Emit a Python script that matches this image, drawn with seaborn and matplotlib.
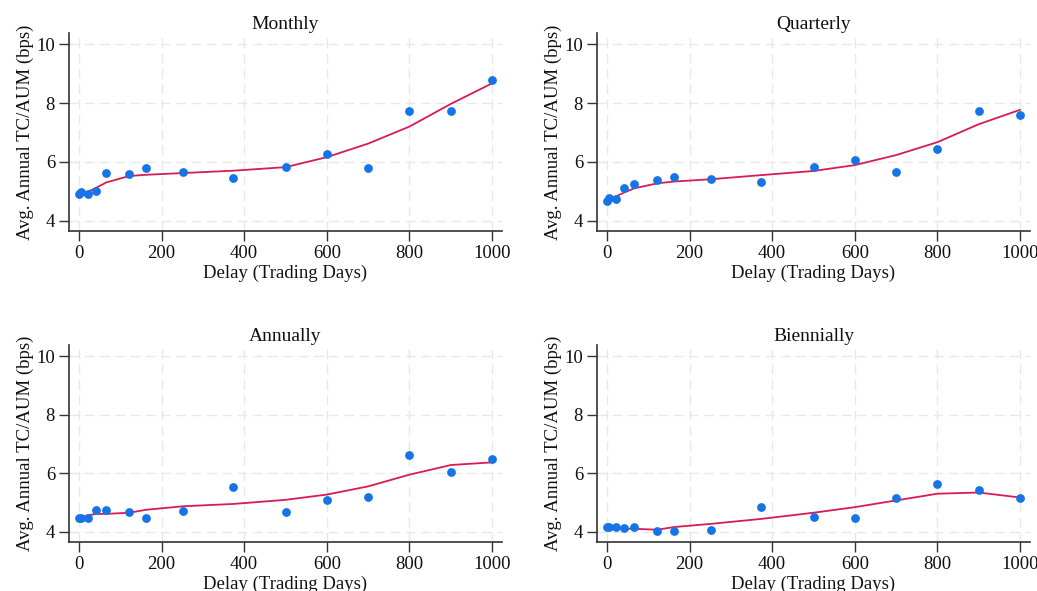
import numpy as np
import pandas as pd
import matplotlib
matplotlib.use("Agg")
import matplotlib.pyplot as plt
import seaborn as sns

delay = [0, 5, 21, 42, 66, 122, 162, 252, 374, 500, 600, 700, 800, 900, 1000]

monthly_pts = [4.90, 4.96, 4.90, 5.01, 5.63, 5.58, 5.80, 5.66, 5.44, 5.83, 6.26, 5.79, 7.73, 7.74, 8.79]
monthly_fit = [4.88, 4.92, 4.98, 5.12, 5.30, 5.52, 5.56, 5.62, 5.70, 5.82, 6.16, 6.62, 7.20, 7.97, 8.67]

quarterly_pts = [4.67, 4.76, 4.74, 5.10, 5.24, 5.37, 5.49, 5.42, 5.33, 5.81, 6.05, 5.64, 6.44, 7.74, 7.60]
quarterly_fit = [4.68, 4.72, 4.82, 4.96, 5.10, 5.27, 5.33, 5.41, 5.55, 5.69, 5.89, 6.23, 6.67, 7.28, 7.77]

annually_pts = [4.48, 4.48, 4.48, 4.73, 4.73, 4.68, 4.47, 4.70, 5.54, 4.66, 5.10, 5.20, 6.62, 6.03, 6.48]
annually_fit = [4.48, 4.50, 4.56, 4.61, 4.61, 4.65, 4.75, 4.87, 4.95, 5.09, 5.27, 5.55, 5.95, 6.28, 6.37]

biennially_pts = [4.15, 4.15, 4.15, 4.14, 4.17, 4.02, 4.01, 4.07, 4.85, 4.49, 4.46, 5.17, 5.63, 5.41, 5.16]
biennially_fit = [4.13, 4.13, 4.12, 4.11, 4.10, 4.07, 4.16, 4.27, 4.44, 4.65, 4.84, 5.07, 5.30, 5.34, 5.17]

titles = ["Monthly", "Quarterly", "Annually", "Biennially"]
pts = [monthly_pts, quarterly_pts, annually_pts, biennially_pts]
fits = [monthly_fit, quarterly_fit, annually_fit, biennially_fit]

xticks = [0, 200, 400, 600, 800, 1000]
yticks = [4, 6, 8, 10]

sns.set_theme(style="white")
plt.rcParams['font.family'] = ['Liberation Serif', 'DejaVu Serif']

fig = plt.figure(figsize=(10.37, 5.91), dpi=100)
W, H = 1037, 591
boxes = [(69, 33, 502, 231), (597, 33, 1030, 231), (69, 345, 502, 542), (597, 345, 1030, 542)]

blue = "#1674e6"
red = "#d81b55"

for (l, t, r, b), title, p, f in zip(boxes, titles, pts, fits):
    ax = fig.add_axes([l / W, 1 - b / H, (r - l) / W, (b - t) / H])
    df = pd.DataFrame({"delay": delay, "pts": p, "fit": f})
    ax.grid(True, color="#e8e8e8", linestyle=(0, (7, 4)), linewidth=1.0)
    ax.set_axisbelow(True)
    sns.lineplot(data=df, x="delay", y="fit", ax=ax, color=red, linewidth=1.3, zorder=2)
    sns.scatterplot(data=df, x="delay", y="pts", ax=ax, color=blue, s=40, edgecolor=blue,
                    linewidth=0, zorder=3)
    ax.set_xlim(-24, 1024)
    ax.set_ylim(3.65, 10.38)
    ax.set_xticks(xticks)
    ax.set_yticks(yticks)
    ax.set_title(title, fontsize=14, pad=3, color="#111111")
    ax.set_xlabel("Delay (Trading Days)", fontsize=13.5, labelpad=2, color="#111111")
    ax.set_ylabel("Avg. Annual TC/AUM (bps)", fontsize=13.5, labelpad=2, color="#111111")
    ax.tick_params(axis="both", which="major", direction="out", length=7, width=1,
                   color="#333333", labelsize=13.5, labelcolor="#111111", bottom=True, left=True, pad=3)
    for s in ["top", "right"]:
        ax.spines[s].set_visible(False)
    for s in ["left", "bottom"]:
        ax.spines[s].set_color("#333333")
        ax.spines[s].set_linewidth(1.2)

fig.savefig("out.png", dpi=100)
